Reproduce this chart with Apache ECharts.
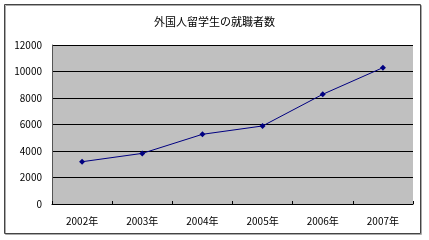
<!DOCTYPE html>
<html><head><meta charset="utf-8">
<script src="https://cdn.jsdelivr.net/npm/echarts@6/dist/echarts.min.js"></script>
<style>html,body{margin:0;padding:0;background:#fff}#c{width:429px;height:240px}</style>
</head><body><div id="c"></div>
<script>
const title = '外国人留学生の就職者数';
const categories = ['2002年','2003年','2004年','2005年','2006年','2007年'];
const values = [3190, 3820, 5260, 5890, 8280, 10290];
const yTicks = {min:0, max:12000, interval:2000};

const chart = echarts.init(document.getElementById('c'));
const font = '"MS PGothic","Noto Sans CJK JP",sans-serif';
chart.setOption({
  animation:false,
  textStyle:{fontFamily:font},
  graphic:[
    {type:'rect', shape:{x:5.5,y:5.5,width:416,height:229}, style:{fill:'none',stroke:'#aaa',lineWidth:1}, z:-2},
    {type:'rect', shape:{x:4.5,y:4.5,width:416,height:229}, style:{fill:'none',stroke:'#444',lineWidth:1}, z:-1},
    {type:'rect', shape:{x:52,y:45,width:361,height:159}, style:{fill:'#c0c0c0'}, z:-1, silent:true}
  ],
  title:{text:title,left:'center',top:11,textStyle:{fontSize:11,fontWeight:'normal',color:'#000',fontFamily:font}},
  grid:{left:52,right:16,top:45,bottom:36,containLabel:false},
  xAxis:{type:'category',data:categories,boundaryGap:true,
    axisLine:{lineStyle:{color:'#000',width:1}},
    axisTick:{show:true,length:3,inside:true,lineStyle:{color:'#000'}},
    axisLabel:{color:'#000',fontSize:10,margin:12,fontFamily:font}},
  yAxis:{type:'value',min:yTicks.min,max:yTicks.max,interval:yTicks.interval,
    axisLine:{show:true,lineStyle:{color:'#555'}},
    axisTick:{show:false},
    axisLabel:{color:'#000',fontSize:10,margin:10,fontFamily:font,formatter:v=>String(v)},
    splitLine:{lineStyle:{color:'#000',width:1}}},
  series:[{type:'line',data:values,symbol:'diamond',symbolSize:6,
    itemStyle:{color:'#000080'},lineStyle:{color:'#000080',width:1}}]
});
</script></body></html>
